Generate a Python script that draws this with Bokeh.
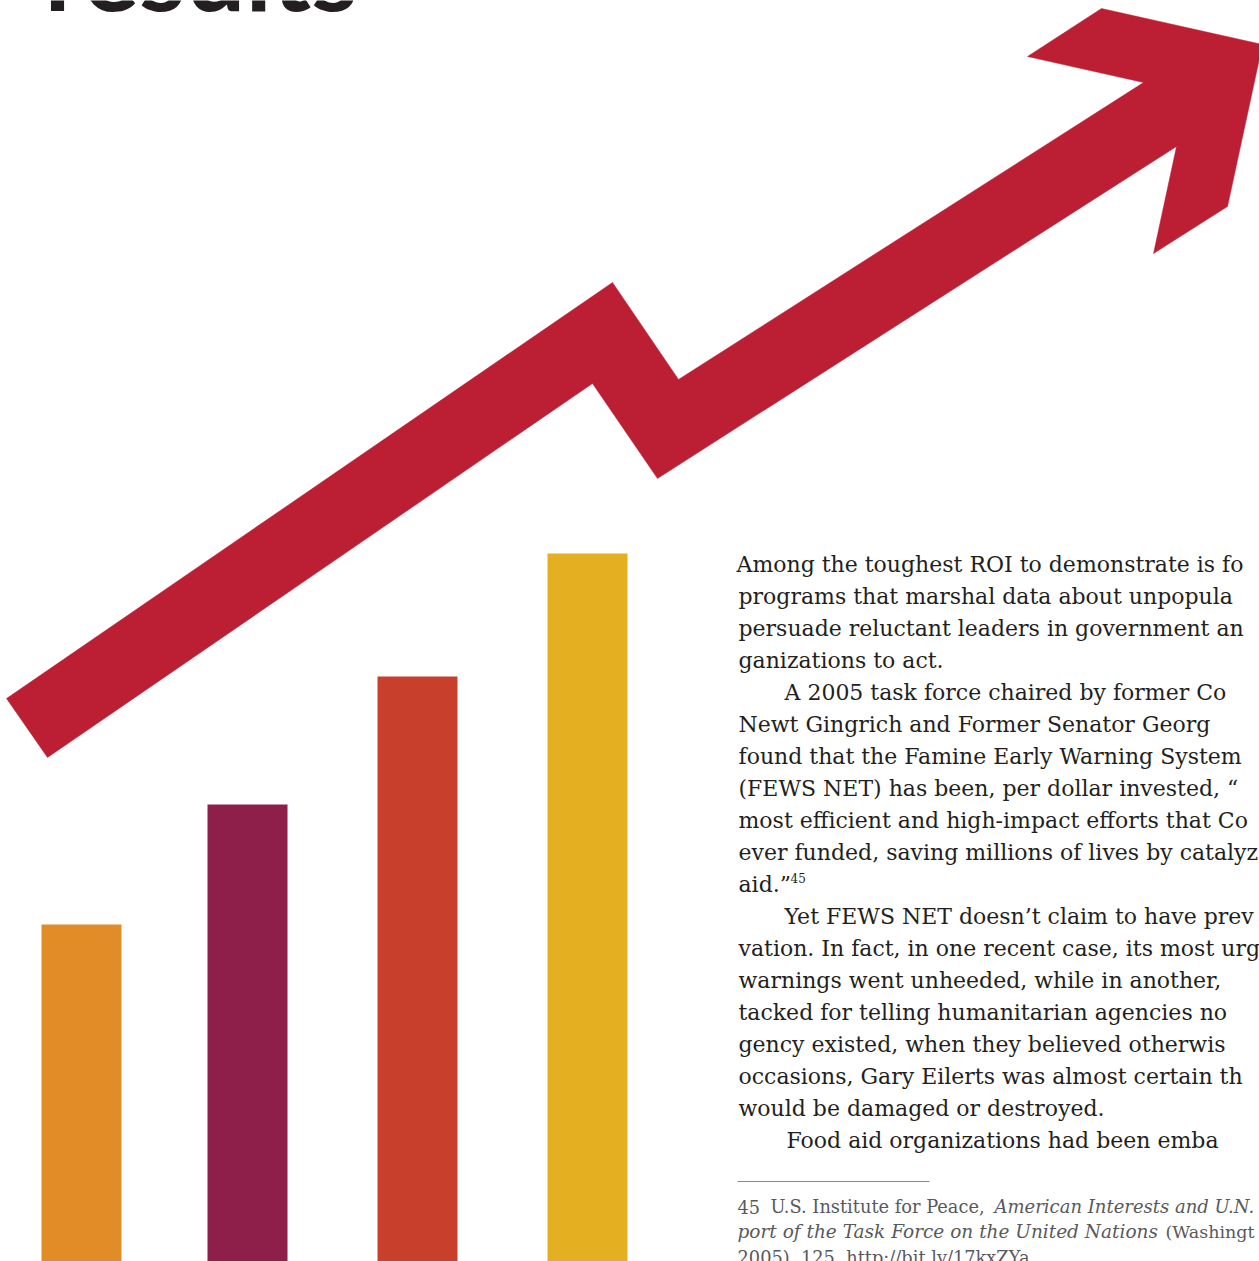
from bokeh.plotting import figure
from bokeh.models import Range1d, ColumnDataSource
from bokeh.core.properties import value
from bokeh.embed import file_html
from bokeh.resources import INLINE

# ---- data (page coordinates of the reference picture) ----
bar_x = [81, 247, 417, 587]
bar_heights = [338, 458, 586, 709]
bar_colors = ["#E28C27", "#8E1E4A", "#C8402C", "#E4B022"]
baseline = 1262

arrow_x = [6, 612, 678, 1143, 1027, 1101, 1262, 1227, 1153, 1176, 657, 592, 47]
arrow_y = [698, 282, 379, 82, 56, 8, 44, 206, 253, 146, 478, 383, 757]

title = "results"

body_lines = [
    "Among the toughest ROI to demonstrate is fo",
    "programs that marshal data about unpopula",
    "persuade reluctant leaders in government an",
    "ganizations to act.",
    "A 2005 task force chaired by former Co",
    "Newt Gingrich and Former Senator Georg",
    "found that the Famine Early Warning System",
    "(FEWS NET) has been, per dollar invested, \u201c",
    "most efficient and high-impact efforts that Co",
    "ever funded, saving millions of lives by catalyz",
    "aid.\u201d",
    "Yet FEWS NET doesn\u2019t claim to have prev",
    "vation. In fact, in one recent case, its most urg",
    "warnings went unheeded, while in another,",
    "tacked for telling humanitarian agencies no",
    "gency existed, when they believed otherwis",
    "occasions, Gary Eilerts was almost certain th",
    "would be damaged or destroyed.",
    "Food aid organizations had been emba",
]
body_x = [736, 738, 738, 738, 784, 738, 738, 738, 738, 738, 738,
          784, 738, 738, 738, 738, 738, 738, 786]

W, H = 1259, 1261
p = figure(width=W, height=H, output_backend="svg", toolbar_location=None,
           x_range=Range1d(0, W), y_range=Range1d(H, 0),
           min_border=0, outline_line_color=None)
p.axis.visible = False
p.grid.visible = False
p.background_fill_color = "white"
p.border_fill_color = "white"

# title (only its foot shows at the top edge)
p.text(x=[44], y=[-31], text=[title], text_font=value("Lato"), text_font_style="bold",
       text_font_size="106px", text_color="#231F20", text_baseline="alphabetic")

# bars
src = ColumnDataSource(dict(x=bar_x, top=[baseline - h for h in bar_heights],
                            color=bar_colors))
p.vbar(x="x", width=80, top="top", bottom=baseline, color="color",
       line_color=None, source=src)

# arrow
p.patch(arrow_x, arrow_y, fill_color="#BC1F34", line_color="#BC1F34", line_width=0.5)

# body text
body_y = [564 + 32 * i for i in range(len(body_lines))]
p.text(x=body_x, y=body_y, text=body_lines, text_font=value("DejaVu Serif"),
       text_font_size="22px", text_color="#231F20", text_baseline="alphabetic")
# superscript footnote mark
p.text(x=[790], y=[877], text=["45"], text_font=value("DejaVu Serif"),
       text_font_size="12px", text_color="#231F20", text_baseline="alphabetic")

# footnote rule
p.segment(x0=[737], y0=[1181], x1=[929], y1=[1181], line_color="#8A8A8A", line_width=1)

# footnote text
fn_color = "#58595B"
p.text(x=[737, 770], y=[1206, 1206], text=["45", "U.S. Institute for Peace,"],
       text_font=value("DejaVu Serif"), text_font_size="17.8px",
       text_color=fn_color, text_baseline="alphabetic")
p.text(x=[994], y=[1206], text=["American Interests and U.N."],
       text_font=value("DejaVu Serif"), text_font_size="18px",
       text_font_style="italic", text_color=fn_color, text_baseline="alphabetic")
p.text(x=[737], y=[1231], text=["port of the Task Force on the United Nations"],
       text_font=value("DejaVu Serif"), text_font_size="18.5px",
       text_font_style="italic", text_color=fn_color, text_baseline="alphabetic")
p.text(x=[1165], y=[1231], text=["(Washingt"],
       text_font=value("DejaVu Serif"), text_font_size="17.5px",
       text_color=fn_color, text_baseline="alphabetic")
p.text(x=[737], y=[1257], text=["2005), 125, http://bit.ly/17kxZYa"],
       text_font=value("DejaVu Serif"), text_font_size="17.8px",
       text_color=fn_color, text_baseline="alphabetic")

open("out.html", "w").write(file_html(p, INLINE))
